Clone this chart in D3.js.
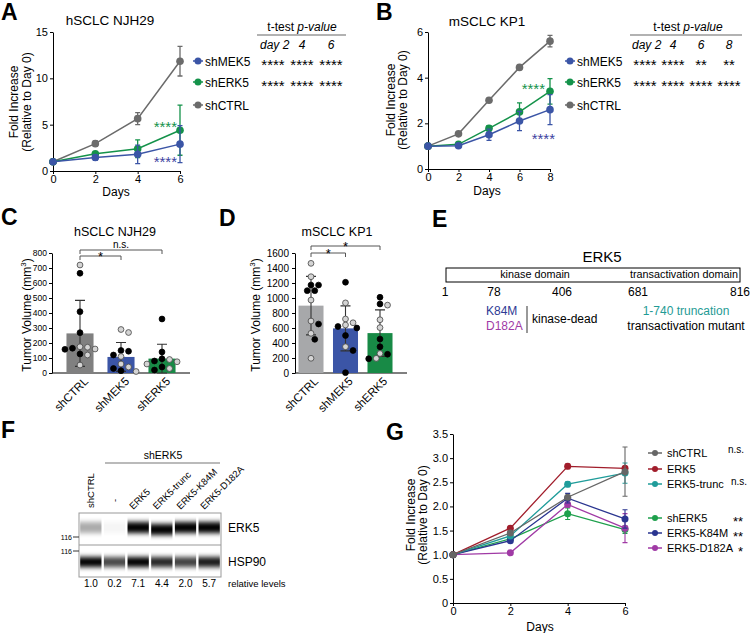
<!DOCTYPE html>
<html><head><meta charset="utf-8">
<script src="https://cdn.jsdelivr.net/npm/d3@7/dist/d3.min.js"></script>
<style>body{margin:0;background:#fff}svg{display:block}text{font-family:'Liberation Sans',Arial,Helvetica,sans-serif}</style>
</head><body>
<svg id="fig" width="750" height="633"></svg>
<script>
// ---------------- DATA ----------------
// Panel A: hSCLC NJH29 growth
const daysA = [0, 2, 4, 6];
const aMEK5 = [1.0, 1.45, 1.8, 2.9];
const aMEK5Err = [0, 0.3, 1.0, 2.0];
const aERK5 = [1.0, 1.85, 2.4, 4.4];
const aERK5Err = [0, 0.25, 0.95, 2.7];
const aCTRL = [1.0, 2.95, 5.65, 11.85];
const aCTRLErr = [0, 0.3, 0.65, 1.6];
const ticksA = [0, 5, 10, 15];
const ttestColsA = ["day 2", "4", "6"];
const ttestMEK5A = ["****", "****", "****"];
const ttestERK5A = ["****", "****", "****"];

// Panel B: mSCLC KP1 growth
const daysB = [0, 2, 4, 6, 8];
const bMEK5 = [1.0, 1.02, 1.5, 2.1, 2.6];
const bMEK5Err = [0, 0.05, 0.25, 0.42, 0.66];
const bERK5 = [1.0, 1.08, 1.78, 2.5, 3.4];
const bERK5Err = [0, 0.05, 0.12, 0.4, 0.56];
const bCTRL = [1.0, 1.54, 3.01, 4.45, 5.6];
const bCTRLErr = [0, 0.06, 0.06, 0.1, 0.25];
const ticksB = [0, 2, 4, 6];
const ttestColsB = ["day 2", "4", "6", "8"];
const ttestMEK5B = ["****", "****", "**", "**"];
const ttestERK5B = ["****", "****", "****", "****"];

const legendAB = ["shMEK5", "shERK5", "shCTRL"];

// Panel C: hSCLC NJH29 tumor volume
const groupsCD = ["shCTRL", "shMEK5", "shERK5"];
const cMean = [264, 107, 96];
const cSD = [220, 96, 96];
const cBlack = [[665, 409, 269, 165, 158, 127], [150, 145, 120, 30, 15], [360, 140, 95, 80, 40, 20]];
const cGrey = [[720, 175, 172, 160, 120, 53], [270, 290, 110, 60, 40, 10], [90, 75, 60, 30]];
const ticksC = d3.range(0, 801, 100);

// Panel D: mSCLC KP1 tumor volume
const dMean = [898, 595, 532];
const dSD = [390, 300, 310];
const dBlack = [[1173, 1173, 1098, 1098, 653, 449], [1210, 620, 600, 500, 300, 5], [1010, 920, 453, 350, 250, 190]];
const dGrey = [[1462, 1284, 973, 693, 529, 196], [935, 720, 670, 640, 350], [905, 710, 605, 260, 195]];
const ticksD = d3.range(0, 1601, 200);

// Panel E: ERK5 domain map
const domainPositions = [1, 78, 406, 681, 816];

// Panel F: western blot
const lanes = ["shCTRL", "-", "ERK5", "ERK5-trunc", "ERK5-K84M", "ERK5-D182A"];
const erk5Signal = [0.33, 0.04, 1, 1, 1, 1];
const hsp90Signal = [1, 0.72, 1, 0.85, 0.75, 0.9];
const relativeLevels = ["1.0", "0.2", "7.1", "4.4", "2.0", "5.7"];

// Panel G: rescue growth
const daysG = [0, 2, 4, 6];
const gNames = ["shCTRL", "ERK5", "ERK5-trunc", "shERK5", "ERK5-K84M", "ERK5-D182A"];
const gValues = [
  [1, 1.45, 2.19, 2.72],
  [1, 1.55, 2.83, 2.79],
  [1, 1.39, 2.46, 2.69],
  [1, 1.33, 1.85, 1.52],
  [1, 1.29, 2.17, 1.74],
  [1, 1.04, 2.04, 1.55]
];
const gErrs = [
  [0, 0.03, 0.04, 0.51],
  [0, 0.02, 0.05, 0.04],
  [0, 0.02, 0.05, 0.21],
  [0, 0.03, 0.12, 0.08],
  [0, 0.03, 0.1, 0.19],
  [0, 0.02, 0.05, 0.3]
];
const gSig = ["n.s.", "", "n.s.", "**", "**", "*"];
const ticksG = d3.range(0, 3.51, 0.5);

// ---------------- DRAWING ----------------
const FONT = "'Liberation Sans', Arial, Helvetica, sans-serif";
const BLUE = '#3b55a6', GREEN = '#14924a', GREY = '#6b6b6b';
const INT = d3.format('d');
const svg = d3.select('#fig');

function styleAxis(sel, fs) {
  sel.selectAll('path,line').attr('stroke', '#000').attr('stroke-width', 1);
  sel.selectAll('text').attr('font-size', fs).attr('fill', '#000').attr('font-family', FONT);
}
function txt(g, x, y, s, fs, opt = {}) {
  const t = g.append('text').attr('x', x).attr('y', y).attr('font-size', fs)
    .attr('text-anchor', opt.anchor || 'start').attr('fill', opt.fill || '#000').text(s);
  if (opt.weight) t.attr('font-weight', opt.weight);
  if (opt.style) t.attr('font-style', opt.style);
  if (opt.rotate !== undefined) t.attr('transform', `rotate(${opt.rotate},${x},${y})`);
  return t;
}
function letter(x, y, s) { txt(svg, x, y, s, 23, {weight: 'bold'}); }

function growth(g, x, y, days, series, r, cap, lw, ew) {
  const line = d3.line().x((d, i) => x(days[i])).y(d => y(d));
  series.forEach(s => {
    const gg = g.append('g');
    gg.append('path').datum(s.values).attr('d', line).attr('fill', 'none')
      .attr('stroke', s.color).attr('stroke-width', lw);
    s.values.forEach((v, i) => {
      const e = s.errs[i]; if (!e) return;
      const cx = x(days[i]);
      gg.append('path').attr('d', `M${cx},${y(v - e)}V${y(v + e)}M${cx - cap},${y(v - e)}H${cx + cap}M${cx - cap},${y(v + e)}H${cx + cap}`)
        .attr('stroke', s.color).attr('stroke-width', ew).attr('fill', 'none');
    });
    gg.selectAll('circle').data(s.values).join('circle')
      .attr('cx', (d, i) => x(days[i])).attr('cy', d => y(d)).attr('r', r).attr('fill', s.color);
  });
}
function yLabel2(g, x1, x2, cy, l1, l2, fs) {
  txt(g, x1, cy, l1, fs, {anchor: 'middle', rotate: -90});
  txt(g, x2, cy, l2, fs, {anchor: 'middle', rotate: -90});
}
function legendDot(g, x, y, color, r) {
  g.append('line').attr('x1', x - 5).attr('x2', x + 5).attr('y1', y).attr('y2', y).attr('stroke', color).attr('stroke-width', 1.5);
  g.append('circle').attr('cx', x).attr('cy', y).attr('r', r).attr('fill', color);
}
const STAR = 15;

// ===== Panel A =====
(function () {
  const g = svg.append('g');
  const x = d3.scaleLinear().domain([0, 6]).range([53, 180]);
  const y = d3.scaleLinear().domain([0, 15]).range([171, 32]);
  g.append('g').attr('transform', 'translate(0,171)').call(d3.axisBottom(x).tickValues(daysA).tickFormat(INT).tickSize(3).tickPadding(1).tickSizeOuter(0)).call(s => styleAxis(s, 11));
  g.append('g').attr('transform', 'translate(53,0)').call(d3.axisLeft(y).tickValues(ticksA).tickFormat(INT).tickSize(3).tickPadding(2).tickSizeOuter(0)).call(s => styleAxis(s, 11));
  growth(g, x, y, daysA, [
    {values: aCTRL, errs: aCTRLErr, color: GREY},
    {values: aERK5, errs: aERK5Err, color: GREEN},
    {values: aMEK5, errs: aMEK5Err, color: BLUE}], 3.8, 2.5, 1.5, 1.3);
  txt(g, 116, 196, 'Days', 12, {anchor: 'middle'});
  yLabel2(g, 18, 31, 102, 'Fold Increase', '(Relative to Day 0)', 12);
  txt(g, 110, 25, 'hSCLC NJH29', 13.5, {anchor: 'middle'});
  txt(g, x(6) - 3, y(aERK5[3]) + 2, '****', STAR, {anchor: 'end', fill: GREEN});
  txt(g, x(6) - 3, y(aMEK5[3]) + 23, '****', STAR, {anchor: 'end', fill: '#3d3fa0'});
  // legend
  const rows = [61, 82, 105], cols = [BLUE, GREEN, GREY];
  legendAB.forEach((n, i) => { legendDot(g, 198, rows[i], cols[i], 3.5); txt(g, 205, rows[i] + 4.5, n, 12); });
  // t-test table
  const t = txt(g, 302, 31, 't-test ', 12, {anchor: 'middle'});
  t.append('tspan').attr('font-style', 'italic').text('p-value');
  g.append('line').attr('x1', 257).attr('x2', 346).attr('y1', 35).attr('y2', 35).attr('stroke', '#999').attr('stroke-width', 1.5);
  const cx = d3.scalePoint().domain(ttestColsA).range([273, 331]);
  ttestColsA.forEach(c => txt(g, c === 'day 2' ? 260 : cx(c), 49, c, 12, {anchor: c === 'day 2' ? 'start' : 'middle', style: 'italic'}));
  [ttestMEK5A, ttestERK5A].forEach((row, ri) => row.forEach((s, ci) => txt(g, cx(ttestColsA[ci]), rows[ri] + 9, s, STAR, {anchor: 'middle'})));
})();

// ===== Panel B =====
(function () {
  const g = svg.append('g');
  const x = d3.scaleLinear().domain([0, 8]).range([428, 550]);
  const y = d3.scaleLinear().domain([0, 6]).range([169, 32]);
  g.append('g').attr('transform', 'translate(0,169)').call(d3.axisBottom(x).tickValues(daysB).tickFormat(INT).tickSize(3).tickPadding(1).tickSizeOuter(0)).call(s => styleAxis(s, 11));
  g.append('g').attr('transform', 'translate(428,0)').call(d3.axisLeft(y).tickValues(ticksB).tickFormat(INT).tickSize(3).tickPadding(2).tickSizeOuter(0)).call(s => styleAxis(s, 11));
  growth(g, x, y, daysB, [
    {values: bCTRL, errs: bCTRLErr, color: GREY},
    {values: bERK5, errs: bERK5Err, color: GREEN},
    {values: bMEK5, errs: bMEK5Err, color: BLUE}], 3.8, 2.5, 1.5, 1.3);
  txt(g, 487, 195, 'Days', 12, {anchor: 'middle'});
  yLabel2(g, 395, 407, 100, 'Fold Increase', '(Relative to Day 0)', 12);
  txt(g, 487, 26, 'mSCLC KP1', 13.5, {anchor: 'middle'});
  txt(g, x(8) - 5, y(bERK5[4]) + 3, '****', STAR, {anchor: 'end', fill: GREEN});
  txt(g, x(8) + 5, y(bMEK5[4]) + 34, '****', STAR, {anchor: 'end', fill: '#3d3fa0'});
  const rows = [61, 82, 105], cols = [BLUE, GREEN, GREY];
  legendAB.forEach((n, i) => { legendDot(g, 570, rows[i], cols[i], 3.5); txt(g, 577, rows[i] + 4.5, n, 12); });
  const t = txt(g, 688, 31, 't-test ', 12, {anchor: 'middle'});
  t.append('tspan').attr('font-style', 'italic').text('p-value');
  g.append('line').attr('x1', 630).attr('x2', 742).attr('y1', 35).attr('y2', 35).attr('stroke', '#999').attr('stroke-width', 1.5);
  const cx = d3.scalePoint().domain(ttestColsB).range([645, 729]);
  ttestColsB.forEach(c => txt(g, c === 'day 2' ? 632 : cx(c), 49, c, 12, {anchor: c === 'day 2' ? 'start' : 'middle', style: 'italic'}));
  [ttestMEK5B, ttestERK5B].forEach((row, ri) => row.forEach((s, ci) => txt(g, cx(ttestColsB[ci]), rows[ri] + 9, s, STAR, {anchor: 'middle'})));
})();

// ===== Panels C & D (bar + dots) =====
function swarm(pts, y, r) {
  const placed = [];
  pts.slice().sort((a, b) => b.v - a.v).forEach(p => {
    const py = y(p.v), step = r * 1.3;
    for (let k = 0; k < 60; k++) {
      const off = (k % 2 ? 1 : -1) * Math.ceil(k / 2) * step;
      if (placed.every(q => Math.hypot(q.dx - off, q.py - py) >= 2 * r + 0.2)) { placed.push({...p, dx: off, py}); break; }
    }
  });
  return placed;
}
function barPanel(o) {
  const g = svg.append('g');
  const x = d3.scaleBand().domain(groupsCD).range(o.xr).paddingInner(o.pad).paddingOuter(o.pad / 2);
  const y = d3.scaleLinear().domain([0, o.max]).range([373, 253]);
  g.append('g').attr('transform', `translate(${o.axisX},0)`).call(d3.axisLeft(y).tickValues(o.ticks).tickFormat(INT).tickSize(3).tickPadding(o.tp).tickSizeOuter(0)).call(s => styleAxis(s, o.tfs));
  g.append('line').attr('x1', o.axisX).attr('x2', o.axisEnd).attr('y1', 373).attr('y2', 373).attr('stroke', '#000');
  const colors = [o.grey, BLUE, '#188a46'];
  groupsCD.forEach((c, i) => {
    g.append('rect').attr('x', x(c)).attr('y', y(o.mean[i])).attr('width', x.bandwidth()).attr('height', 373 - y(o.mean[i])).attr('fill', colors[i]);
  });
  groupsCD.forEach((c, i) => {
    const cx = x(c) + x.bandwidth() / 2, lo = y(Math.max(0, o.mean[i] - o.sd[i])), hi = y(o.mean[i] + o.sd[i]);
    g.append('path').attr('d', `M${cx},${lo}V${hi}M${cx - 5},${hi}H${cx + 5}M${cx - 5},${lo}H${cx + 5}`).attr('stroke', '#333').attr('stroke-width', 1.1).attr('fill', 'none');
  });
  const r = 2.9;
  groupsCD.forEach((c, i) => {
    const cx = x(c) + x.bandwidth() / 2;
    const pts = o.black[i].map(v => ({v, t: 'b'})).concat(o.greyPts[i].map(v => ({v, t: 'g'})));
    swarm(pts, y, r).forEach(p => {
      g.append('circle').attr('cx', cx + p.dx).attr('cy', p.py).attr('r', r)
        .attr('fill', p.t === 'b' ? '#000' : '#d4d4d4').attr('stroke', p.t === 'b' ? '#000' : '#444').attr('stroke-width', 0.8);
    });
    txt(g, cx + o.lx, 382, c, 11.5, {anchor: 'end', rotate: -45});
  });
  const t = txt(g, o.ylx, 315, 'Tumor Volume (mm', 12, {anchor: 'middle', rotate: -90});
  t.append('tspan').attr('font-size', 8).attr('dy', -5).text('3');
  t.append('tspan').attr('dy', 5).text(')');
  txt(g, o.titleX, 236, o.title, 12.5, {anchor: 'middle'});
  o.brackets.forEach(b => {
    const x1 = x(groupsCD[b[0]]) + x.bandwidth() / 2, x2 = x(groupsCD[b[1]]) + x.bandwidth() / 2;
    g.append('path').attr('d', `M${x1},${b[2] + 4}V${b[2]}H${x2}V${b[2] + 4}`).attr('fill', 'none').attr('stroke', '#555').attr('stroke-width', 1);
    if (b[3] === '*') txt(g, (x1 + x2) / 2, b[2] + 5, '*', 13, {anchor: 'middle'});
    else txt(g, (x1 + x2) / 2, b[2] - 2.5, b[3], 10, {anchor: 'middle'});
  });
}
barPanel({xr: [59.5, 182.5], pad: 0.34, max: 800, ticks: ticksC, axisX: 52, axisEnd: 190, tp: 2, tfs: 8.5,
  mean: cMean, sd: cSD, black: cBlack, greyPts: cGrey, grey: '#808080', lx: 9, ylx: 31, titleX: 115, title: 'hSCLC NJH29',
  brackets: [[0, 2, 250, 'n.s.'], [0, 1, 256, '*']]});
barPanel({xr: [293.75, 397.25], pad: 0.275, max: 1600, ticks: ticksD, axisX: 295, axisEnd: 407, tp: 3, tfs: 10,
  mean: dMean, sd: dSD, black: dBlack, greyPts: dGrey, grey: '#a7a8aa', lx: 8, ylx: 260, titleX: 337, title: 'mSCLC KP1',
  brackets: [[0, 2, 246, '*'], [0, 1, 253, '*']]});

// ===== Panel E =====
(function () {
  const g = svg.append('g');
  const x = d3.scaleLinear().domain(domainPositions).range([445, 494, 562, 638, 740]);
  txt(g, 602, 262, 'ERK5', 15, {anchor: 'middle'});
  g.append('rect').attr('x', 446).attr('y', 268).attr('width', 294).attr('height', 14).attr('fill', '#fff').attr('stroke', '#000').attr('stroke-width', 1);
  txt(g, 535, 278, 'kinase domain', 10.8, {anchor: 'middle'});
  txt(g, 684, 278, 'transactivation domain', 10.8, {anchor: 'middle'});
  domainPositions.forEach(p => txt(g, x(p), 296, String(p), 12, {anchor: 'middle'}));
  txt(g, 486, 315, 'K84M', 12, {fill: '#2e3a94'});
  txt(g, 486, 330, 'D182A', 12, {fill: '#a03aa5'});
  g.append('line').attr('x1', 527).attr('x2', 527).attr('y1', 306).attr('y2', 333).attr('stroke', '#555').attr('stroke-width', 1.2);
  txt(g, 532, 323, 'kinase-dead', 12);
  txt(g, 686, 315, '1-740 truncation', 12, {anchor: 'middle', fill: '#1f9b95'});
  txt(g, 686, 330, 'transactivation mutant', 12, {anchor: 'middle'});
})();

// ===== Panel F =====
(function () {
  const g = svg.append('g');
  const x = d3.scaleBand().domain(lanes).range([79, 221]).paddingInner(0.1).paddingOuter(0.05);
  const defs = svg.append('defs');
  defs.append('filter').attr('id', 'blurV').attr('x', '-20%').attr('y', '-100%').attr('width', '140%').attr('height', '300%')
    .append('feGaussianBlur').attr('stdDeviation', '0.5 2.4');
  defs.append('clipPath').attr('id', 'clipTop').append('rect').attr('x', 79).attr('y', 513).attr('width', 142).attr('height', 32);
  defs.append('clipPath').attr('id', 'clipBot').append('rect').attr('x', 79).attr('y', 545).attr('width', 142).attr('height', 32);
  txt(g, 163, 459, 'shERK5', 10.5, {anchor: 'middle'});
  g.append('line').attr('x1', 105).attr('x2', 220).attr('y1', 463).attr('y2', 463).attr('stroke', '#777').attr('stroke-width', 1.2);
  lanes.forEach((l, i) => {
    const cx = x(l) + x.bandwidth() / 2;
    if (i < 2) txt(g, cx + 3, i === 0 ? 508 : 502, l, 9.5, {rotate: -90});
    else txt(g, cx - 5, 510, l, 9.5, {rotate: -45});
  });
  const top = g.append('g').attr('clip-path', 'url(#clipTop)');
  const bot = g.append('g').attr('clip-path', 'url(#clipBot)');
  lanes.forEach((l, i) => {
    const shift = l === 'ERK5-trunc' ? 2 : 0;
    top.append('rect').attr('x', x(l)).attr('y', 522 + shift).attr('width', x.bandwidth()).attr('height', 11)
      .attr('fill', '#000').attr('opacity', erk5Signal[i]).attr('filter', 'url(#blurV)');
    bot.append('rect').attr('x', x(l)).attr('y', 557).attr('width', x.bandwidth()).attr('height', 10)
      .attr('fill', '#000').attr('opacity', hsp90Signal[i]).attr('filter', 'url(#blurV)');
    txt(g, x(l) + x.bandwidth() / 2, 587, relativeLevels[i], 10, {anchor: 'middle'});
  });
  g.append('rect').attr('x', 79).attr('y', 513).attr('width', 142).attr('height', 64).attr('fill', 'none').attr('stroke', '#999').attr('stroke-width', 1);
  g.append('line').attr('x1', 79).attr('x2', 221).attr('y1', 545).attr('y2', 545).attr('stroke', '#999').attr('stroke-width', 1);
  [537, 551].forEach(yy => {
    g.append('line').attr('x1', 73).attr('x2', 79).attr('y1', yy).attr('y2', yy).attr('stroke', '#333');
    txt(g, 72, yy + 2.5, '116', 7, {anchor: 'end'});
  });
  txt(g, 228, 532, 'ERK5', 12);
  txt(g, 228, 566, 'HSP90', 12);
  txt(g, 228, 587, 'relative levels', 9.5);
})();

// ===== Panel G =====
(function () {
  const g = svg.append('g');
  const x = d3.scaleLinear().domain([0, 6]).range([453, 625]);
  const y = d3.scaleLinear().domain([0, 3.5]).range([603, 434]);
  const colors = ['#666666', '#a11d2b', '#1f9c9a', '#1ea04c', '#2a3590', '#a03aa5'];
  g.append('g').attr('transform', 'translate(0,603)').call(d3.axisBottom(x).tickValues(daysG).tickFormat(INT).tickSize(3).tickPadding(1).tickSizeOuter(0)).call(s => styleAxis(s, 11));
  g.append('g').attr('transform', 'translate(453,0)').call(d3.axisLeft(y).tickValues(ticksG).tickFormat(d => d === 0 ? '0' : d.toFixed(1)).tickSize(3).tickPadding(2).tickSizeOuter(0)).call(s => styleAxis(s, 11));
  const order = [3, 5, 4, 2, 1, 0];
  growth(g, x, y, daysG, order.map(i => ({values: gValues[i], errs: gErrs[i], color: colors[i]})), 3.5, 2.5, 1.3, 1.1);
  txt(g, 540, 631, 'Days', 12, {anchor: 'middle'});
  yLabel2(g, 415, 427, 515, 'Fold Increase', '(Relative to Day 0)', 12);
  const rows = [453, 469, 484, 518, 533, 548];
  gNames.forEach((n, i) => {
    g.append('line').attr('x1', 648).attr('x2', 662).attr('y1', rows[i]).attr('y2', rows[i]).attr('stroke', colors[i]).attr('stroke-width', 1.5);
    g.append('circle').attr('cx', 655).attr('cy', rows[i]).attr('r', 3).attr('fill', colors[i]);
    txt(g, 667, rows[i] + 4, n, 11);
    if (gSig[i]) {
      if (gSig[i] === 'n.s.') txt(g, i === 0 ? 728 : 731, rows[i] + (i === 0 ? 0 : 1), 'n.s.', 10);
      else txt(g, 743, rows[i] + 8, gSig[i], 13, {anchor: 'end'});
    }
  });
})();

// Panel letters
letter(1, 20, 'A');
letter(376, 20, 'B');
letter(1, 225, 'C');
letter(219, 226, 'D');
letter(432, 227, 'E');
letter(1, 438, 'F');
letter(386, 440, 'G');
</script></body></html>
